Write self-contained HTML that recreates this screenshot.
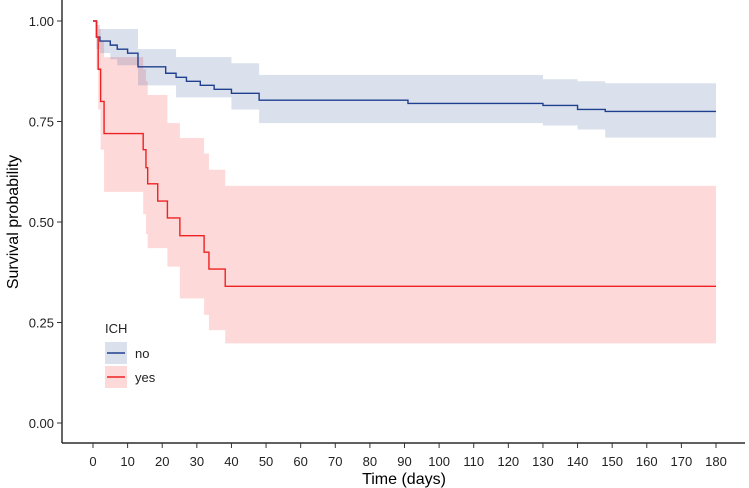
<!DOCTYPE html>
<html><head><meta charset="utf-8"><style>
html,body{margin:0;padding:0;background:#fff;}
svg{display:block;font-family:"Liberation Sans",Arial,sans-serif;}
</style></head><body>
<svg id="chart" width="749" height="488"></svg>
<script>
const xTicks=[0,10,20,30,40,50,60,70,80,90,100,110,120,130,140,150,160,170,180];
const yTicks=[0,0.25,0.5,0.75,1.0];
const yTickLabels=["0.00","0.25","0.50","0.75","1.00"];
const noTime=[0,1,2,5,7,10,13,21,24,27,31,35,40,48,91,130,140,148];
const noSurv=[1,0.96,0.95,0.94,0.93,0.92,0.886,0.87,0.86,0.85,0.84,0.83,0.82,0.803,0.795,0.79,0.78,0.775];
const noUpper=[1,0.99,0.98,0.98,0.98,0.98,0.93,0.93,0.91,0.91,0.91,0.91,0.895,0.866,0.866,0.855,0.85,0.845];
const noLower=[1,0.93,0.92,0.905,0.89,0.89,0.84,0.84,0.81,0.81,0.81,0.81,0.78,0.746,0.746,0.74,0.73,0.71];
const yesTime=[0,1,1.5,2.2,3.2,14.5,15.3,15.8,18.7,21.5,25.1,32.1,33.5,38.2];
const yesSurv=[1,0.96,0.88,0.80,0.72,0.68,0.635,0.595,0.552,0.51,0.466,0.425,0.383,0.34];
const yesUpper=[1,1,0.98,0.95,0.91,0.88,0.85,0.816,0.816,0.746,0.709,0.67,0.63,0.59];
const yesLower=[1,0.88,0.78,0.68,0.575,0.52,0.47,0.435,0.435,0.389,0.31,0.269,0.231,0.198];
const tMax=180;
const X0=93,X1=716,Y0=423,Y1=21;
const sx=t=>X0+(t/180)*(X1-X0);
const sy=v=>Y0-v*(Y0-Y1);
const svg=document.getElementById('chart');
const NS='http://www.w3.org/2000/svg';
function mk(tag,attrs){const e=document.createElementNS(NS,tag);for(const k in attrs)e.setAttribute(k,attrs[k]);svg.appendChild(e);return e;}
function stepPts(times,vals){let p=[];for(let i=0;i<times.length;i++){const x=sx(times[i]);if(i>0)p.push([x,sy(vals[i-1])]);p.push([x,sy(vals[i])]);}p.push([sx(tMax),sy(vals[vals.length-1])]);return p;}
function band(times,up,lo,fill,name){
  const u=stepPts(times,up),l=stepPts(times,lo).reverse();
  const e=mk('polygon',{points:u.concat(l).map(p=>p.join(',')).join(' '),fill:fill});
  
  
}
function line(times,vals,col,name){
  const e=mk('polyline',{points:stepPts(times,vals).map(p=>p.join(',')).join(' '),fill:'none',stroke:col,'stroke-width':1.4});
  
  
}
band(yesTime,yesUpper,yesLower,'rgba(248,118,118,0.28)','yes-confidence-band');
band(noTime,noUpper,noLower,'rgba(70,100,160,0.2)','no-confidence-band');
line(noTime,noSurv,'#1f3f8f','no-survival-curve');
line(yesTime,yesSurv,'#ee2222','yes-survival-curve');
// axes
let a=mk('line',{x1:62,y1:443,x2:745,y2:443,stroke:'#000','stroke-width':1.2});


a=mk('line',{x1:62,y1:0,x2:62,y2:443,stroke:'#000','stroke-width':1.2});


xTicks.forEach(t=>{
  mk('line',{x1:sx(t),y1:443,x2:sx(t),y2:448,stroke:'#333'});
  const e=mk('text',{x:sx(t),y:466,'text-anchor':'middle','font-size':13,fill:'#222'});
  e.textContent=t;
  
  
});
yTicks.forEach((v,i)=>{
  mk('line',{x1:57,y1:sy(v),x2:62,y2:sy(v),stroke:'#333'});
  const e=mk('text',{x:54,y:sy(v)+5,'text-anchor':'end','font-size':13,fill:'#222'});
  e.textContent=yTickLabels[i];
  
  
});
let t=mk('text',{x:404,y:484,'text-anchor':'middle','font-size':16,fill:'#000'});
t.textContent='Time (days)';


t=mk('text',{x:0,y:0,transform:'translate(18,222) rotate(-90)','text-anchor':'middle','font-size':16,fill:'#000'});
t.textContent='Survival probability';


// legend
t=mk('text',{x:105,y:333,'font-size':13,fill:'#222'});
t.textContent='ICH';


let r=mk('rect',{x:105,y:342,width:22,height:22,fill:'rgba(70,100,160,0.2)'});


mk('line',{x1:107,y1:353,x2:125,y2:353,stroke:'#1f3f8f','stroke-width':1.4});
t=mk('text',{x:135,y:358,'font-size':13,fill:'#222'});
t.textContent='no';


r=mk('rect',{x:105,y:366,width:22,height:22,fill:'rgba(248,118,118,0.28)'});


mk('line',{x1:107,y1:377,x2:125,y2:377,stroke:'#ee2222','stroke-width':1.4});
t=mk('text',{x:135,y:382,'font-size':13,fill:'#222'});
t.textContent='yes';


</script>
</body></html>
